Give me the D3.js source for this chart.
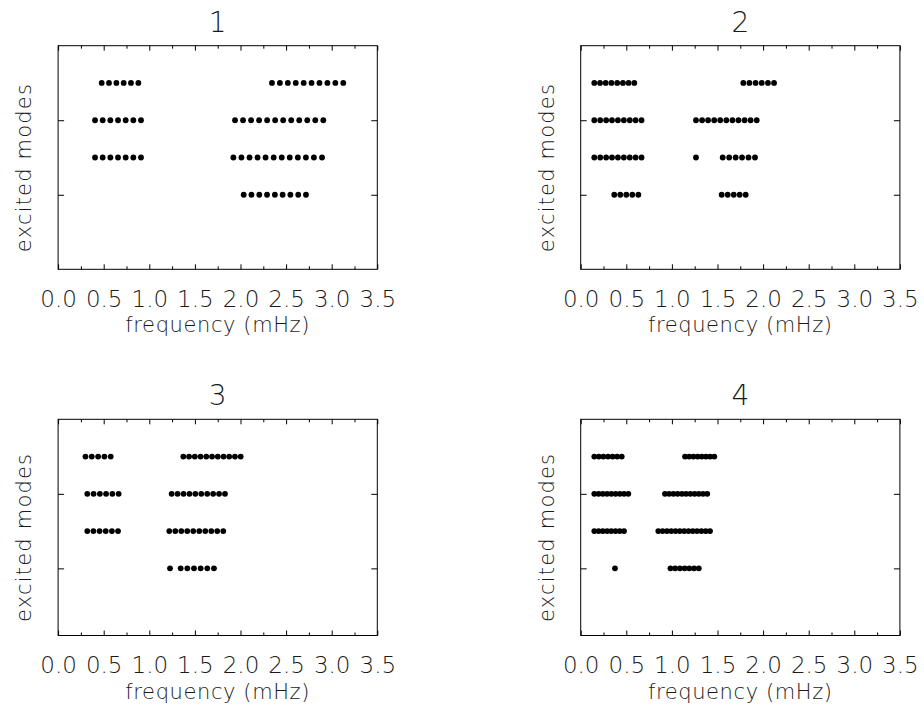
<!DOCTYPE html>
<html><head><meta charset="utf-8">
<script src="https://cdn.jsdelivr.net/npm/d3@7"></script>
<style>
body{margin:0;background:#fff}
svg{display:block}
text{font-family:"DejaVu Sans",sans-serif;fill:#1a1a1a}
</style>
</head><body>
<svg id="chart" width="924" height="721"></svg>
<script>
// ---------------- data ----------------
const panelTitles = ["1", "2", "3", "4"];
const modeRows = [5, 4, 3, 2];   // y value of each row of dots (top to bottom)

// frequencies (mHz) of excited modes, one array per row (rows in modeRows order)
const panel1Freqs = [
  [0.478, 0.558, 0.639, 0.719, 0.799, 0.880, 2.345, 2.432, 2.519, 2.606, 2.693, 2.779, 2.866, 2.953, 3.040, 3.127],
  [0.405, 0.489, 0.573, 0.657, 0.741, 0.825, 0.909, 1.940, 2.028, 2.116, 2.204, 2.292, 2.380, 2.468, 2.556, 2.644, 2.732, 2.820, 2.908],
  [0.405, 0.489, 0.573, 0.657, 0.741, 0.825, 0.909, 1.922, 2.010, 2.099, 2.187, 2.275, 2.364, 2.452, 2.540, 2.629, 2.717, 2.805, 2.894],
  [2.035, 2.120, 2.206, 2.291, 2.377, 2.462, 2.547, 2.633, 2.718]
];
const panel2Freqs = [
  [0.149, 0.212, 0.274, 0.337, 0.400, 0.463, 0.525, 0.588, 1.783, 1.850, 1.918, 1.985, 2.053, 2.120],
  [0.149, 0.214, 0.279, 0.343, 0.408, 0.473, 0.538, 0.602, 0.667, 1.264, 1.331, 1.397, 1.464, 1.530, 1.597, 1.664, 1.730, 1.797, 1.863, 1.930],
  [0.149, 0.214, 0.279, 0.343, 0.408, 0.473, 0.538, 0.602, 0.667, 1.264, 1.557, 1.628, 1.699, 1.769, 1.840, 1.911],
  [0.368, 0.434, 0.500, 0.566, 0.632, 1.546, 1.612, 1.678, 1.743, 1.809]
];
const panel3Freqs = [
  [0.300, 0.369, 0.439, 0.508, 0.577, 1.373, 1.436, 1.499, 1.562, 1.625, 1.688, 1.751, 1.814, 1.876, 1.939, 2.002],
  [0.320, 0.389, 0.458, 0.526, 0.595, 0.664, 1.245, 1.310, 1.375, 1.440, 1.505, 1.570, 1.635, 1.700, 1.765, 1.830],
  [0.320, 0.387, 0.455, 0.522, 0.590, 0.657, 1.219, 1.285, 1.351, 1.416, 1.482, 1.548, 1.614, 1.680, 1.745, 1.811],
  [1.227, 1.344, 1.417, 1.490, 1.563, 1.636, 1.709]
];
const panel4Freqs = [
  [0.149, 0.199, 0.249, 0.300, 0.350, 0.400, 0.450, 1.144, 1.190, 1.236, 1.282, 1.327, 1.373, 1.419, 1.465],
  [0.149, 0.196, 0.242, 0.289, 0.336, 0.382, 0.429, 0.475, 0.522, 0.924, 0.970, 1.017, 1.063, 1.110, 1.156, 1.202, 1.249, 1.295, 1.342, 1.388],
  [0.149, 0.196, 0.242, 0.289, 0.335, 0.382, 0.428, 0.475, 0.851, 0.898, 0.946, 0.993, 1.040, 1.087, 1.135, 1.182, 1.229, 1.276, 1.324, 1.371, 1.418],
  [0.376, 0.984, 1.036, 1.088, 1.140, 1.191, 1.243, 1.295]
];

const xTickValues = [0, 0.5, 1.0, 1.5, 2.0, 2.5, 3.0, 3.5];
const xTickLabels = ["0.0", "0.5", "1.0", "1.5", "2.0", "2.5", "3.0", "3.5"];
const xMinorTicks = [0.25, 0.75, 1.25, 1.75, 2.25, 2.75, 3.25];
const yTickValues = [2, 4];
const xDomain = [0, 3.5];
const yDomain = [0, 6];
const xTitle = "frequency (mHz)";
const yTitle = "excited modes";

// ---------------- layout ----------------
const panels = [
  {freqs: panel1Freqs, left: 58.1, right: 377.3, top: 45.7, bottom: 269.3},
  {freqs: panel2Freqs, left: 580.7, right: 899.9, top: 45.7, bottom: 269.3},
  {freqs: panel3Freqs, left: 58.1, right: 377.3, top: 419.3, bottom: 635.5},
  {freqs: panel4Freqs, left: 580.7, right: 899.9, top: 419.3, bottom: 635.5}
];
const rowUnit = (269.3 - 45.7) / 6;
const textFill = "#1a1a1a";

const svg = d3.select("#chart");

panels.forEach((p, i) => {
  const x = d3.scaleLinear().domain(xDomain).range([p.left, p.right]);
  // same vertical scale for all panels, anchored at the top border
  const yMin = yDomain[1] - (p.bottom - p.top) / rowUnit;
  const y = d3.scaleLinear().domain([yMin, yDomain[1]]).range([p.bottom, p.top]);

  const g = svg.append("g");

  // frame
  g.append("rect")
    .attr("x", p.left).attr("y", p.top)
    .attr("width", p.right - p.left).attr("height", p.bottom - p.top)
    .attr("fill", "none").attr("stroke", "#000").attr("stroke-width", 1);

  const noDomain = s => s.select(".domain").remove();

  // bottom axis with labels
  g.append("g").attr("transform", `translate(0,${p.bottom})`)
    .call(d3.axisBottom(x).tickValues(xTickValues)
      .tickFormat((d, k) => xTickLabels[k]).tickSize(-5).tickPadding(21))
    .call(noDomain)
    .call(s => s.selectAll("line").attr("stroke", "#000"))
    .call(s => s.selectAll("text").attr("font-size", 23).attr("font-family", "DejaVu Sans")
      .attr("font-weight", 200).attr("fill", textFill));
  g.append("g").attr("transform", `translate(0,${p.bottom})`)
    .call(d3.axisBottom(x).tickValues(xMinorTicks).tickFormat("").tickSize(-3))
    .call(noDomain).call(s => s.selectAll("line").attr("stroke", "#000"));

  // top axis
  g.append("g").attr("transform", `translate(0,${p.top})`)
    .call(d3.axisTop(x).tickValues(xTickValues).tickFormat("").tickSize(-5))
    .call(noDomain).call(s => s.selectAll("line").attr("stroke", "#000"));
  g.append("g").attr("transform", `translate(0,${p.top})`)
    .call(d3.axisTop(x).tickValues(xMinorTicks).tickFormat("").tickSize(-3))
    .call(noDomain).call(s => s.selectAll("line").attr("stroke", "#000"));

  // left and right axes
  g.append("g").attr("transform", `translate(${p.left},0)`)
    .call(d3.axisLeft(y).tickValues(yTickValues).tickFormat("").tickSize(-6))
    .call(noDomain).call(s => s.selectAll("line").attr("stroke", "#000"));
  g.append("g").attr("transform", `translate(${p.right},0)`)
    .call(d3.axisRight(y).tickValues(yTickValues).tickFormat("").tickSize(-6))
    .call(noDomain).call(s => s.selectAll("line").attr("stroke", "#000"));

  // dots
  const pts = [];
  p.freqs.forEach((row, r) => row.forEach(f => pts.push({f, m: modeRows[r]})));
  g.append("g").selectAll("circle").data(pts).join("circle")
    .attr("cx", d => x(d.f)).attr("cy", d => y(d.m))
    .attr("r", 2.9).attr("fill", "#000");

  const cx = (p.left + p.right) / 2;
  // title
  g.append("text").attr("x", cx).attr("y", p.top - 14)
    .attr("text-anchor", "middle").attr("font-size", 28).attr("font-weight", 200)
    .attr("fill", textFill)
    .text(panelTitles[i]);
  // x title
  g.append("text").attr("x", cx).attr("y", p.bottom + 63)
    .attr("text-anchor", "middle").attr("font-size", 21).attr("font-weight", 200)
    .attr("letter-spacing", 0.6).attr("fill", textFill)
    .text(xTitle);
  // y title
  g.append("text")
    .attr("transform", `translate(${p.left - 27},${(p.top + p.bottom) / 2 + 10}) rotate(-90)`)
    .attr("text-anchor", "middle").attr("font-size", 21).attr("font-weight", 200)
    .attr("letter-spacing", 1.2).attr("fill", textFill)
    .text(yTitle);
});
</script>
</body></html>
